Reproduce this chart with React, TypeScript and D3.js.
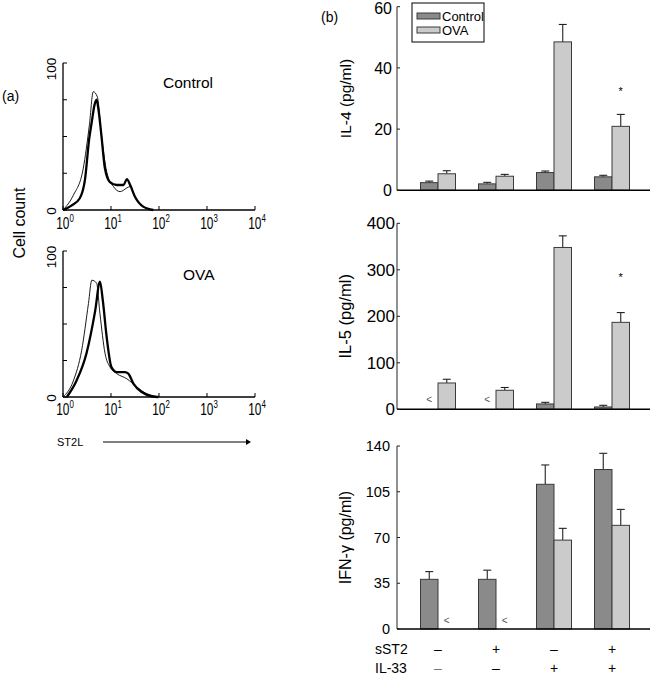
import * as d3 from "d3";

// ---- panel (a) histogram data: [fluorescence intensity, % of max] ----
const controlStained = [
  [1, 0], [1.5, 3], [2.24, 8], [2.88, 21], [3.5, 48], [3.98, 60], [4.5, 71], [5.0, 75], [5.5, 68],
  [6.3, 51], [7.5, 28], [9.5, 19], [13.2, 17], [18.2, 17], [21.4, 21], [25.1, 17], [31.6, 9],
  [46.8, 2.3], [75.9, 0],
];
const controlIsotype = [
  [1, 0], [1.64, 10], [2.63, 28], [3.55, 58], [4.27, 80.5], [5.19, 77], [6.31, 51], [8.13, 26],
  [11.2, 16], [15.5, 12.5], [21.4, 15], [25.1, 16], [31.6, 9], [46.8, 2.3], [75.9, 0],
];
const ovaStained = [
  [1.2, 0], [1.9, 11], [3.09, 30], [4.68, 59], [5.89, 79], [6.76, 66], [8.13, 41], [10.2, 20.5],
  [13.2, 17], [19.5, 17], [22.9, 16], [29.5, 9], [43.6, 3.4], [70.8, 0.5], [97.7, 0],
];
const ovaIsotype = [
  [1, 0], [1.64, 11], [2.45, 32], [3.39, 64], [3.98, 80], [5.01, 78], [5.89, 57], [7.5, 30],
  [9.55, 20.5], [13.2, 16], [21.4, 12.5], [33.9, 7], [55, 2.3], [89, 0.5],
];
const decades = [1, 10, 100, 1000, 10000];
const countTicks = [0, 25, 50, 75, 100];

// ---- panel (b) bar data ----
const groups = ["g1", "g2", "g3", "g4"];
const series = ["Control", "OVA"];
const sST2 = ["\u2013", "+", "\u2013", "+"];
const il33 = ["\u2013", "\u2013", "+", "+"];

const il4Control = [2.5, 2.1, 5.8, 4.4];
const il4ControlErr = [0.5, 0.5, 0.5, 0.5];
const il4Ova = [5.4, 4.6, 48.5, 20.9];
const il4OvaErr = [1.0, 0.6, 5.7, 3.9];
const il4Ticks = [0, 20, 40, 60];

const il5Control = [null, null, 11.5, 5];
const il5ControlErr = [0, 0, 3.5, 3.6];
const il5Ova = [56.6, 40.9, 348, 187];
const il5OvaErr = [8, 6, 25, 21];
const il5Ticks = [0, 100, 200, 300, 400];

const ifnControl = [38, 38, 110.7, 122];
const ifnControlErr = [5.9, 7, 14.8, 12.4];
const ifnOva = [null, null, 68, 79.3];
const ifnOvaErr = [0, 0, 9, 12.2];
const ifnTicks = [0, 35, 70, 105, 140];

const FONT = "'Liberation Sans', Arial, Helvetica, sans-serif";
const DARK = "#8a8a8a";
const LIGHT = "#cbcbcb";
const EDGE = "#3a3a3a";

const xLog = d3.scaleLog().domain([1, 10000]).range([63, 255]);

function Histogram({ top, bottom, label, labelX, labelY, stained, isotype, tickLabelY }) {
  const y = d3.scaleLinear().domain([0, 100]).range([bottom, top]);
  const line = d3
    .line<number[]>()
    .x((d) => xLog(d[0]))
    .y((d) => y(d[1]))
    .curve(d3.curveMonotoneX);
  return (
    <g>
      <line x1={xLog(1)} x2={xLog(1)} y1={y(0)} y2={y(100)} stroke="#000" strokeWidth={1.3} />
      <line x1={xLog(1)} x2={xLog(10000)} y1={y(0)} y2={y(0)} stroke="#000" strokeWidth={1.3} />
      {countTicks.map((t) => (
        <line key={t} x1={xLog(1)} x2={xLog(1) + 4} y1={y(t)} y2={y(t)} stroke="#000" strokeWidth={1} />
      ))}
      {decades.map((d) => (
        <line key={d} x1={xLog(d)} x2={xLog(d)} y1={y(0)} y2={y(0) - 4} stroke="#000" strokeWidth={1} />
      ))}
      {decades.map((d, i) => (
        <g key={"l" + d} transform={`translate(${xLog(d) + 2},${tickLabelY}) scale(0.72,1)`}>
          <text textAnchor="middle" fontSize={16.5} fontFamily={FONT}>
            10
            <tspan dy={-7} fontSize={11}>
              {i}
            </tspan>
          </text>
        </g>
      ))}
      <text transform={`translate(56,${y(100) + 6}) rotate(-90)`} textAnchor="middle" fontSize={13.5} fontFamily={FONT}>
        100
      </text>
      <text transform={`translate(56,${y(0) + 1}) rotate(-90)`} textAnchor="middle" fontSize={13.5} fontFamily={FONT}>
        0
      </text>
      <path d={line(isotype) ?? ""} fill="none" stroke="#000" strokeWidth={0.9} />
      <path d={line(stained) ?? ""} fill="none" stroke="#000" strokeWidth={2.3} />
      <text x={labelX} y={labelY} fontSize={15.5} fontFamily={FONT}>
        {label}
      </text>
    </g>
  );
}

const xGroup = d3.scaleBand().domain(groups).range([409, 641]);
const barW = 17.5;
const xSeries = d3
  .scaleBand()
  .domain(series)
  .range([xGroup.bandwidth() / 2 - barW, xGroup.bandwidth() / 2 + barW]);

function BarPanel({ top, bottom, max, ticks, control, controlErr, ova, ovaErr, title, titleSize, tickSize, tickEnd, star, lessY }) {
  const y = d3.scaleLinear().domain([0, max]).range([bottom, top]);
  const rows = [
    { key: "Control", vals: control, errs: controlErr, fill: DARK },
    { key: "OVA", vals: ova, errs: ovaErr, fill: LIGHT },
  ];
  return (
    <g>
      {rows.map((r) =>
        groups.map((g, i) => {
          const x0 = (xGroup(g) ?? 0) + (xSeries(r.key) ?? 0);
          const cx = x0 + barW / 2;
          const v = r.vals[i];
          if (v == null) {
            return (
              <text key={r.key + g} x={cx} y={y(0) + lessY} textAnchor="middle" fontSize={10} fill="#555" fontFamily={FONT}>
                {"<"}
              </text>
            );
          }
          const e = r.errs[i];
          return (
            <g key={r.key + g}>
              <line x1={cx} x2={cx} y1={y(v)} y2={y(v + e)} stroke="#222" strokeWidth={1.1} />
              <line x1={cx - 4} x2={cx + 4} y1={y(v + e)} y2={y(v + e)} stroke="#222" strokeWidth={1.1} />
              <rect x={x0} y={y(v)} width={barW} height={y(0) - y(v)} fill={r.fill} stroke={EDGE} strokeWidth={1} />
            </g>
          );
        })
      )}
      <line x1={397} x2={397} y1={y(0)} y2={y(max)} stroke="#222" strokeWidth={1} />
      <line x1={397} x2={650} y1={y(0)} y2={y(0)} stroke="#000" strokeWidth={1.4} />
      {ticks.map((t) => (
        <g key={t}>
          <line x1={397} x2={400} y1={y(t)} y2={y(t)} stroke="#222" strokeWidth={1} />
          <text
            x={tickEnd}
            y={Math.max(y(t) + tickSize * 0.36, tickSize * 0.75 + 2)}
            textAnchor="end"
            fontSize={tickSize}
            fontFamily={FONT}
          >
            {t}
          </text>
        </g>
      ))}
      {star != null && (
        <text
          x={(xGroup("g4") ?? 0) + (xSeries("OVA") ?? 0) + barW / 2}
          y={y(star) + 6}
          textAnchor="middle"
          fontSize={11}
          fontFamily={FONT}
        >
          *
        </text>
      )}
      <text
        transform={`translate(351,${(top + bottom) / 2}) rotate(-90)`}
        textAnchor="middle"
        fontSize={titleSize}
        fontFamily={FONT}
      >
        {title}
      </text>
    </g>
  );
}

export default function App() {
  return (
    <svg
      width={650}
      height={677}
      style={{ position: "absolute", left: 0, top: 0, background: "#fff" }}
    >
      <rect width={650} height={677} fill="#fff" />
      {/* panel (a) */}
      <text x={2} y={101} fontSize={14} fontFamily={FONT}>
        (a)
      </text>
      <text transform="translate(25,223) rotate(-90)" textAnchor="middle" fontSize={16} fontFamily={FONT}>
        Cell count
      </text>
      <Histogram top={63} bottom={210} label="Control" labelX={163} labelY={88} stained={controlStained} isotype={controlIsotype} tickLabelY={229} />
      <Histogram top={251} bottom={397} label="OVA" labelX={183} labelY={280} stained={ovaStained} isotype={ovaIsotype} tickLabelY={415} />
      <text x={57} y={446} fontSize={11} fontFamily={FONT}>
        ST2L
      </text>
      <line x1={103} x2={246} y1={442} y2={442} stroke="#000" strokeWidth={1} />
      <path d="M246,439 L251,442 L246,445 Z" fill="#000" />

      {/* panel (b) */}
      <text x={321} y={22} fontSize={14} fontFamily={FONT}>
        (b)
      </text>
      <BarPanel
        top={6.7}
        bottom={190.3}
        max={60}
        ticks={il4Ticks}
        control={il4Control}
        controlErr={il4ControlErr}
        ova={il4Ova}
        ovaErr={il4OvaErr}
        title="IL-4 (pg/ml)"
        titleSize={15.5}
        tickSize={16}
        tickEnd={392}
        star={33}
        lessY={-5}
      />
      <BarPanel
        top={223.3}
        bottom={409.3}
        max={400}
        ticks={il5Ticks}
        control={il5Control}
        controlErr={il5ControlErr}
        ova={il5Ova}
        ovaErr={il5OvaErr}
        title="IL-5 (pg/ml)"
        titleSize={16.5}
        tickSize={17}
        tickEnd={395}
        star={288}
        lessY={-6}
      />
      <BarPanel
        top={446}
        bottom={629}
        max={140}
        ticks={ifnTicks}
        control={ifnControl}
        controlErr={ifnControlErr}
        ova={ifnOva}
        ovaErr={ifnOvaErr}
        title="IFN-γ (pg/ml)"
        titleSize={16}
        tickSize={14.5}
        tickEnd={390}
        star={null}
        lessY={-5}
      />
      {/* legend */}
      <rect x={412} y={3} width={72} height={39} fill="#fff" stroke="#000" strokeWidth={1} />
      <rect x={417} y={13} width={23} height={6} fill={DARK} stroke={EDGE} strokeWidth={1} />
      <rect x={417} y={27} width={23} height={6} fill={LIGHT} stroke={EDGE} strokeWidth={1} />
      <text x={442} y={20.5} fontSize={13} fontFamily={FONT}>
        Control
      </text>
      <text x={442} y={34.5} fontSize={13} fontFamily={FONT}>
        OVA
      </text>
      {/* treatment rows */}
      <text x={375} y={654} fontSize={14} fontFamily={FONT}>
        sST2
      </text>
      <text x={375} y={673} fontSize={14} fontFamily={FONT}>
        IL-33
      </text>
      {groups.map((g, i) => {
        const cx = (xGroup(g) ?? 0) + xGroup.bandwidth() / 2;
        return (
          <g key={g}>
            <text x={cx} y={654} textAnchor="middle" fontSize={14} fontFamily={FONT}>
              {sST2[i]}
            </text>
            <text x={cx} y={673} textAnchor="middle" fontSize={14} fontFamily={FONT} fill={i === 0 ? "#777" : "#000"}>
              {il33[i]}
            </text>
          </g>
        );
      })}
    </svg>
  );
}
